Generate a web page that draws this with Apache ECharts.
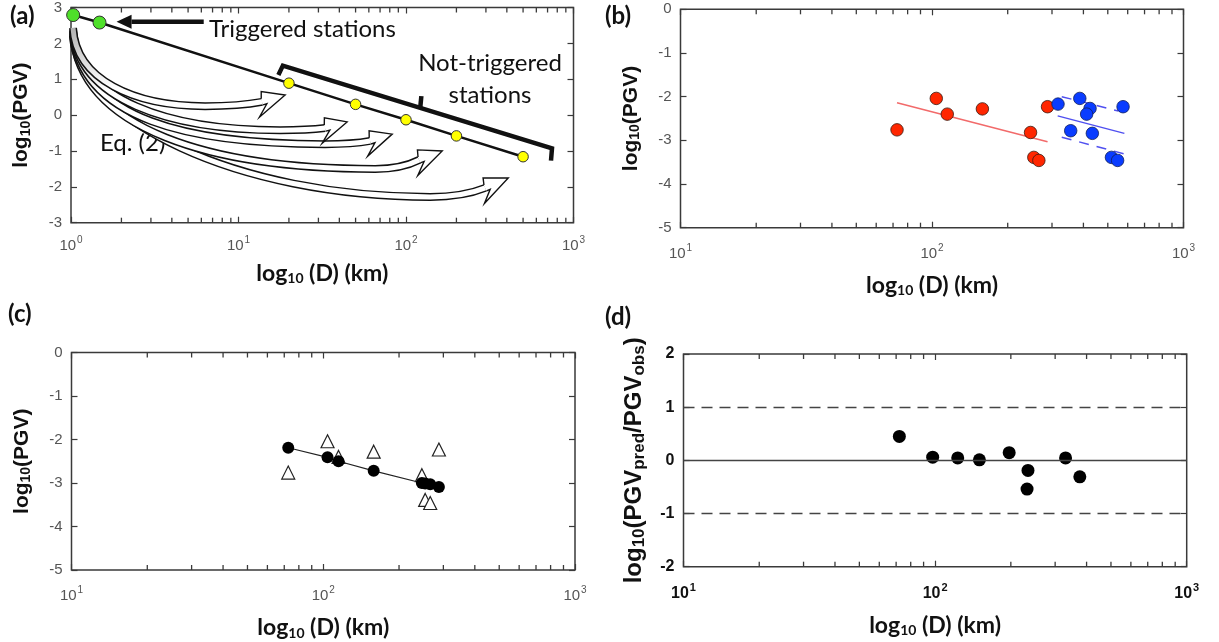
<!DOCTYPE html>
<html><head><meta charset="utf-8">
<script src="https://cdn.jsdelivr.net/npm/echarts@6/dist/echarts.min.js"></script>
<style>html,body{margin:0;padding:0;background:#fff}#c{width:1219px;height:642px}</style>
</head><body><div id="c"></div>
<script>
// ---------------- data ----------------
// (a) schematic
const triggeredD = [1.03, 1.48];
const triggeredPGV = [2.79, 2.58];
const notTriggeredD = [20, 50, 100, 200, 500];
const notTriggeredPGV = [0.89, 0.30, -0.13, -0.58, -1.16];
// Eq.(2) curved arrows, in data units [D, log10 PGV]: start, start control, lowest point, head base, tip
const arrowCurves = [
  [[1.028, 2.43], [1.071, 0.98], [6.32, 0.25], [13.84, 0.37], [18.98, 0.56]],
  [[1.028, 2.37], [1.101, 0.42], [17.72, -0.42], [32.9, -0.36], [44.5, -0.19]],
  [[1.028, 2.32], [1.132, -0.14], [32.9, -0.81], [61.1, -0.72], [82.7, -0.53]],
  [[1.028, 2.26], [1.132, -0.42], [65.5, -1.50], [119.9, -1.25], [164.5, -1.00]],
  [[1.028, 2.21], [1.101, -0.14], [139.5, -2.28], [297.2, -2.03], [407.8, -1.75]]
];
const triggeredArrow = [[6.2, 2.6], [1.87, 2.6]];
const bracketPts = [[17.3, 1.12], [18.4, 1.38], [744, -0.93], [734, -1.27]];
const bracketNub = [[121.6, 0.20], [123.5, 0.53]];

// (b) observed PGV
const redD = [72.6, 104, 115, 158.6, 246.5, 254, 266, 288];
const redPGV = [-2.76, -2.04, -2.40, -2.28, -2.82, -3.39, -3.46, -2.23];
const redFit = [[72.6, -2.14], [288, -3.03]];
const blueD = [317, 387, 425, 412, 575, 356, 434, 517, 547];
const bluePGV = [-2.17, -2.04, -2.27, -2.40, -2.23, -2.78, -2.84, -3.39, -3.46];
const blueFit = [[316, -2.44], [582, -2.84]];
const blueUpper = [[328, -2.00], [551, -2.33]];
const blueLower = [[328, -2.93], [582, -3.31]];

// (c) predicted PGV at the red stations
const predPGV = [-2.19, -2.41, -2.50, -2.72, -3.00, -3.01, -3.03, -3.09];

// (d) residuals
const residD = [72.1, 97.8, 123, 150, 197, 234, 232, 330, 376];
const residVal = [0.45, 0.06, 0.045, 0.01, 0.145, -0.19, -0.54, 0.045, -0.31];
const residLevels = [1, 0, -1];

// axes
const xRanges = [[1, 1000], [10, 1000], [10, 1000], [10, 1000]];
const yRanges = [[-3, 3], [-5, 0], [-5, 0], [-2, 2]];
const minorTickD = [2, 3, 4, 5, 6, 7, 8, 9, 20, 30, 40, 50, 60, 70, 80, 90, 200, 300, 400, 500, 600, 700, 800, 900];

// ---------------- chart ----------------
const FR = '#3a3a3a';
const zip = (xs, ys) => xs.map((x, i) => [x, ys[i]]);
const chart = echarts.init(document.getElementById('c'));

const grids = [
  {left: 71, top: 7.5, width: 502.5, height: 215.2},
  {left: 680.5, top: 9.3, width: 503, height: 218.4},
  {left: 71.5, top: 352.5, width: 503.5, height: 217.5},
  {left: 683.5, top: 354, width: 503.2, height: 212.7}
].map(g => Object.assign({show: true, borderColor: FR, borderWidth: 1.5, backgroundColor: 'transparent'}, g));

const xNames = '{a|log}{s|10}{a| (D) (km)}';
const yNamePGV = '{a|log}{s|10}{a|(PGV)}';
const yNameD = '{a|log}{s|10}{a|(PGV}{s|pred}{a|/PGV}{s|obs}{a|)}';

function nameStyle(font, size, sub, subPad) {
  return {
    fontFamily: font, fontWeight: 'bold', fontSize: size, color: '#111',
    rich: {
      a: {fontFamily: font, fontWeight: 'bold', fontSize: size, color: '#111'},
      s: {fontFamily: font, fontWeight: 'bold', fontSize: sub, color: '#111', padding: [subPad, 0, 0, 0]}
    }
  };
}

const xLabelGap = [13, 16, 15, 16];
const xNameGap = [39, 46, 46, 47];
const yNameGap = [38, 38, 38, 36];
const xAxes = [], yAxes = [];
for (let i = 0; i < 4; i++) {
  const bold = i === 3;
  const labFont = {fontFamily: 'Liberation Sans', fontSize: bold ? 16 : 15, fontWeight: bold ? 'bold' : 'normal', color: bold ? '#111' : '#555'};
  const tick = {show: true, inside: true, length: 6, lineStyle: {color: FR, width: 1.2}};
  const line = {show: false, onZero: false};
  xAxes.push({
    gridIndex: i, type: 'log', logBase: 10, min: xRanges[i][0], max: xRanges[i][1], position: 'bottom',
    axisLine: line, axisTick: tick, splitLine: {show: false},
    axisLabel: {
      margin: xLabelGap[i],
      formatter: v => '{b|10}{p|' + Math.round(Math.log10(v)) + '}',
      rich: {b: labFont, p: Object.assign({}, labFont, {fontSize: bold ? 11 : 10, padding: [0, 0, 11, 1]})}
    },
    name: xNames, nameLocation: 'middle', nameGap: xNameGap[i],
    nameTextStyle: nameStyle('Lato', 23, 14, 10)
  });
  xAxes.push({
    gridIndex: i, type: 'log', logBase: 10, min: xRanges[i][0], max: xRanges[i][1], position: 'top',
    axisLine: line, axisTick: tick, splitLine: {show: false}, axisLabel: {show: false}
  });
  yAxes.push({
    gridIndex: i, type: 'value', min: yRanges[i][0], max: yRanges[i][1], interval: 1, position: 'left',
    axisLine: line, axisTick: tick, splitLine: {show: false},
    axisLabel: Object.assign({margin: 9}, labFont),
    name: i === 3 ? yNameD : yNamePGV, nameLocation: 'middle', nameRotate: 90, nameGap: yNameGap[i],
    nameTextStyle: i === 3 ? nameStyle('Liberation Sans', 24, 17, 10) : nameStyle('Liberation Sans', 21, 14, 9)
  });
  yAxes.push({
    gridIndex: i, type: 'value', min: yRanges[i][0], max: yRanges[i][1], interval: 1, position: 'right',
    axisLine: line, axisTick: tick, splitLine: {show: false}, axisLabel: {show: false}
  });
}

const series = [];
// minor log ticks (bottom and top edge of each panel)
for (let i = 0; i < 4; i++) {
  const vals = minorTickD.filter(v => v > xRanges[i][0] && v < xRanges[i][1]);
  series.push({type: 'scatter', xAxisIndex: 2 * i, yAxisIndex: 2 * i, silent: true, clip: false, z: 6,
    symbol: 'rect', symbolSize: [1.3, 5], symbolOffset: [0, -2.5],
    data: vals.map(v => [v, yRanges[i][0]]), itemStyle: {color: FR, opacity: 1}});
  series.push({type: 'scatter', xAxisIndex: 2 * i, yAxisIndex: 2 * i, silent: true, clip: false, z: 6,
    symbol: 'rect', symbolSize: [1.3, 5], symbolOffset: [0, 2.5],
    data: vals.map(v => [v, yRanges[i][1]]), itemStyle: {color: FR, opacity: 1}});
}

// (a) curved arrows
series.push({
  type: 'custom', xAxisIndex: 0, yAxisIndex: 0, silent: true, z: 2,
  data: arrowCurves.map((c, i) => [c[4][0], c[4][1], i]).reverse(),
  encode: {x: 0, y: 1},
  renderItem: (params, api) => {
    const curve = arrowCurves[api.value(2)];
    const [p0, p1, b, p3, tip] = curve.map(c => api.coord(c));
    const c2 = [p1[0] + 0.45 * (b[0] - p1[0]), b[1]];
    const q = [b[0] + 0.6 * (p3[0] - b[0]), b[1]];
    const dx = tip[0] - p3[0], dy = tip[1] - p3[1], L = Math.hypot(dx, dy);
    const d = [dx / L, dy / L], n = [-d[1], d[0]];
    const w1 = 3.2, w2 = 10, w3 = 14;
    const P = (s, t) => [p3[0] + n[0] * s + d[0] * t, p3[1] + n[1] * s + d[1] * t];
    const head = [P(-w1, 0), P(-w2, 2), tip, P(w3, -7), P(w1, 4), P(w1, 0)];
    const pathData = 'M' + p0.join(' ') + ' C' + p1.join(' ') + ' ' + c2.join(' ') + ' ' + b.join(' ') +
      ' Q' + q.join(' ') + ' ' + p3.join(' ');
    const grad = new echarts.graphic.LinearGradient(0, p0[1], 0, p0[1] + 60,
      [{offset: 0, color: '#b0b0b0'}, {offset: 1, color: '#ffffff'}], true);
    return {type: 'group', children: [
      {type: 'path', shape: {pathData}, style: {fill: null, stroke: '#111', lineWidth: 8, lineCap: 'butt'}},
      {type: 'path', shape: {pathData}, style: {fill: null, stroke: grad, lineWidth: 5, lineCap: 'butt'}},
      {type: 'polygon', shape: {points: head}, style: {fill: '#fff', stroke: null}},
      {type: 'polyline', shape: {points: head}, style: {fill: null, stroke: '#111', lineWidth: 1.4}}
    ]};
  }
});
// (a) triggered-stations arrow
series.push({
  type: 'custom', xAxisIndex: 0, yAxisIndex: 0, silent: true, z: 4,
  data: [[triggeredArrow[1][0], triggeredArrow[1][1]]], encode: {x: 0, y: 1},
  renderItem: (params, api) => {
    const a = api.coord(triggeredArrow[0]), b = api.coord(triggeredArrow[1]);
    const dx = b[0] - a[0], dy = b[1] - a[1], L = Math.hypot(dx, dy);
    const d = [dx / L, dy / L], n = [-d[1], d[0]];
    const base = [b[0] - d[0] * 15, b[1] - d[1] * 15];
    return {type: 'group', children: [
      {type: 'line', shape: {x1: a[0], y1: a[1], x2: base[0], y2: base[1]}, style: {stroke: '#111', lineWidth: 4.5}},
      {type: 'polygon', shape: {points: [b, [base[0] + n[0] * 7, base[1] + n[1] * 7], [base[0] - n[0] * 7, base[1] - n[1] * 7]]}, style: {fill: '#111'}}
    ]};
  }
});
// (a) line through stations + bracket
series.push({type: 'line', xAxisIndex: 0, yAxisIndex: 0, z: 3, symbol: 'none', silent: true,
  data: zip(triggeredD, triggeredPGV).concat(zip(notTriggeredD, notTriggeredPGV)),
  lineStyle: {color: '#111', width: 2.5}});
series.push({type: 'line', xAxisIndex: 0, yAxisIndex: 0, z: 3, symbol: 'none', silent: true,
  data: bracketPts, lineStyle: {color: '#111', width: 4.5, join: 'miter'}});
series.push({type: 'line', xAxisIndex: 0, yAxisIndex: 0, z: 3, symbol: 'none', silent: true,
  data: bracketNub, lineStyle: {color: '#111', width: 4.5}});
series.push({type: 'scatter', xAxisIndex: 0, yAxisIndex: 0, z: 5, symbolSize: 13,
  data: zip(triggeredD, triggeredPGV), itemStyle: {color: '#4fe02a', borderColor: '#333', borderWidth: 1, opacity: 1}});
series.push({type: 'scatter', xAxisIndex: 0, yAxisIndex: 0, z: 5, symbolSize: 10.5,
  data: zip(notTriggeredD, notTriggeredPGV), itemStyle: {color: '#ffff00', borderColor: '#333', borderWidth: 1, opacity: 1}});

// (b)
series.push({type: 'line', xAxisIndex: 2, yAxisIndex: 2, symbol: 'none', z: 2, data: redFit, lineStyle: {color: '#f26a6a', width: 1.5}});
series.push({type: 'line', xAxisIndex: 2, yAxisIndex: 2, symbol: 'none', z: 2, data: blueFit, lineStyle: {color: '#5050f0', width: 1.5}});
series.push({type: 'line', xAxisIndex: 2, yAxisIndex: 2, symbol: 'none', z: 2, data: blueUpper, lineStyle: {color: '#5050f0', width: 1.5, type: [10, 8]}});
series.push({type: 'line', xAxisIndex: 2, yAxisIndex: 2, symbol: 'none', z: 2, data: blueLower, lineStyle: {color: '#5050f0', width: 1.5, type: [10, 8]}});
series.push({type: 'scatter', xAxisIndex: 2, yAxisIndex: 2, z: 3, symbolSize: 12.5, data: zip(redD, redPGV),
  itemStyle: {color: '#ff2600', borderColor: '#3a1a10', borderWidth: 0.8, opacity: 1}});
series.push({type: 'scatter', xAxisIndex: 2, yAxisIndex: 2, z: 3, symbolSize: 12.5, data: zip(blueD, bluePGV),
  itemStyle: {color: '#0a3cff', borderColor: '#10205a', borderWidth: 0.8, opacity: 1}});

// (c)
series.push({type: 'scatter', xAxisIndex: 4, yAxisIndex: 4, z: 2, symbol: 'triangle', symbolSize: 13, data: zip(redD, redPGV),
  itemStyle: {color: '#fff', borderColor: '#222', borderWidth: 1.2, opacity: 1}});
series.push({type: 'line', xAxisIndex: 4, yAxisIndex: 4, z: 3, symbol: 'circle', symbolSize: 12, data: zip(redD, predPGV),
  lineStyle: {color: '#222', width: 1.2}, itemStyle: {color: '#000'}});

// (d)
series.push({type: 'scatter', xAxisIndex: 6, yAxisIndex: 6, z: 3, symbolSize: 13, data: zip(residD, residVal),
  itemStyle: {color: '#000', opacity: 1},
  markLine: {silent: true, symbol: 'none', label: {show: false},
    data: residLevels.map(v => ({yAxis: v, lineStyle: {color: '#444', width: 1.3, type: v === 0 ? 'solid' : [11, 7]}}))}});

const T = (text, x, y, size, align, weight) => ({type: 'text', x, y, silent: true,
  style: {text, fill: '#111', font: (weight || 'normal') + ' ' + size + 'px Lato', align: align || 'left', verticalAlign: 'middle'}});

chart.setOption({
  animation: false,
  backgroundColor: '#fff',
  grid: grids, xAxis: xAxes, yAxis: yAxes, series,
  graphic: [
    T('(a)', 10, 16, 24, 'left', 'bold'),
    T('(b)', 605, 16, 24, 'left', 'bold'),
    T('(c)', 8, 314, 24, 'left', 'bold'),
    T('(d)', 605, 317, 24, 'left', 'bold'),
    T('Triggered stations', 209, 29, 24),
    T('Not-triggered', 490, 63, 24, 'center'),
    T('stations', 490, 95, 24, 'center'),
    T('Eq. (2)', 100, 143, 24)
  ]
});
</script></body></html>
